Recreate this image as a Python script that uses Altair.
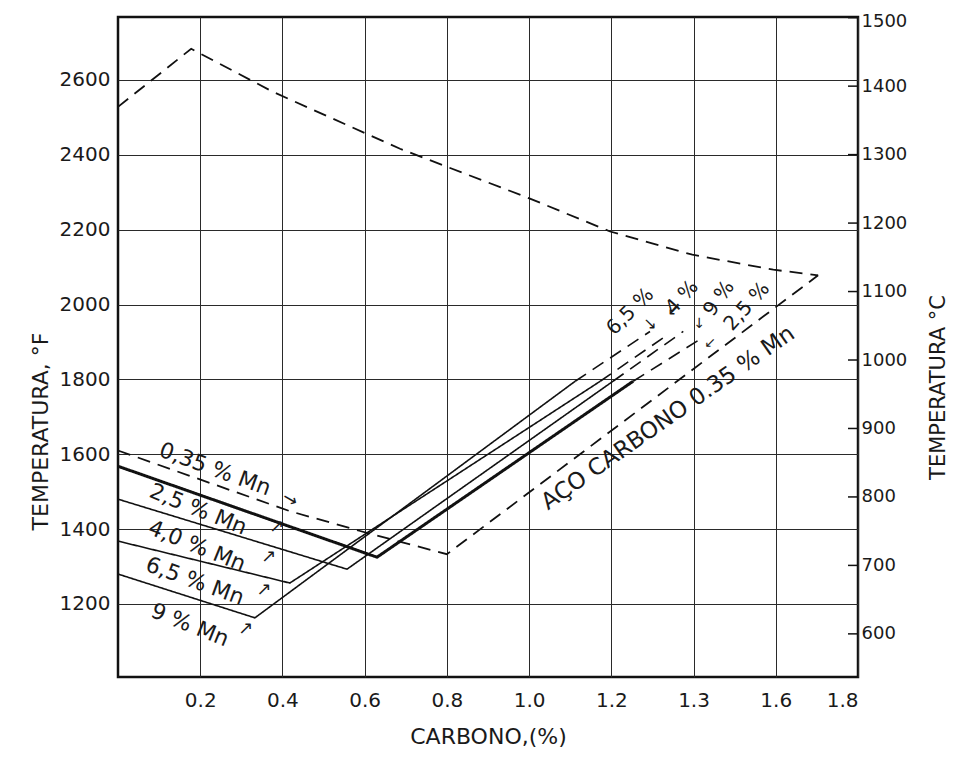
import altair as alt
import pandas as pd

FONT = "DejaVu Sans"
INK = "#1a1a1a"

# ---- axes ----
x_tick_values = [0.2, 0.4, 0.6, 0.8, 1.0, 1.2, 1.4, 1.6, 1.8]
x_tick_labels = ["0.2", "0.4", "0.6", "0.8", "1.0", "1.2", "1.3", "1.6", "1.8"]
f_ticks = [1200, 1400, 1600, 1800, 2000, 2200, 2400, 2600]
c_ticks = [600, 700, 800, 900, 1000, 1100, 1200, 1300, 1400, 1500]

# ---- curves (carbon %, temperature °F) ----
upper_c = [0.0, 0.178, 0.377, 0.686, 1.002, 1.197, 1.397, 1.594, 1.703]
upper_f = [2528, 2683, 2568, 2416, 2283, 2195, 2133, 2093, 2078]

steel_c = [0.0, 0.418, 0.589, 0.80, 1.703]
steel_f = [1610, 1448, 1395, 1333, 2078]

mn25_c = [0.0, 0.630, 1.253]
mn25_f = [1568, 1325, 1795]
mn25_dash_c = [1.253, 1.423]
mn25_dash_f = [1795, 1912]

mn40_c = [0.0, 0.557, 1.204]
mn40_f = [1480, 1293, 1795]
mn40_dash_c = [1.204, 1.375]
mn40_dash_f = [1795, 1928]

mn65_c = [0.0, 0.418, 1.173]
mn65_f = [1368, 1256, 1795]
mn65_dash_c = [1.173, 1.338]
mn65_dash_f = [1795, 1920]

mn9_c = [0.0, 0.333, 1.112]
mn9_f = [1280, 1163, 1795]
mn9_dash_c = [1.112, 1.294]
mn9_dash_f = [1795, 1928]

# ---- labels ----
label_text = ["0,35 % Mn", "2,5 % Mn", "4,0 % Mn", "6,5 % Mn", "9 % Mn",
              "6,5 %", "4 %", "9 %", "2,5 %", "AÇO CARBONO 0.35 % Mn"]
label_c = [0.236, 0.195, 0.192, 0.187, 0.175, 1.246, 1.372, 1.462, 1.530, 1.338]
label_f = [1560, 1453, 1355, 1261, 1144, 1981, 2019, 2016, 1995, 1697]
label_angle = [20, 22, 22, 20, 22, 315, 312, 305, 312, 325]
label_size = [22, 22, 22, 22, 22, 20, 20, 20, 20, 23]

arrow_text = ["→", "↗", "↗", "↗", "↗", "↘", "↙", "↓", "↙"]
arrow_c = [0.418, 0.386, 0.367, 0.355, 0.311, 1.294, 1.353, 1.414, 1.440]
arrow_f = [1478, 1405, 1325, 1238, 1134, 1947, 1985, 1949, 1896]
arrow_angle = [30, 0, 0, 0, 0, 0, 0, 0, 0]
arrow_size = [18, 18, 18, 18, 18, 16, 16, 14, 14]

# ---- build tables ----
rows = []


def add(name, cs, fs, style, w):
    for i, (c, f) in enumerate(zip(cs, fs)):
        rows.append(dict(series=name, i=i, c=c, F=f, style=style, w=w))


add("upper", upper_c, upper_f, "dashed", 1.8)
add("steel", steel_c, steel_f, "dashed", 1.8)
add("mn25", mn25_c, mn25_f, "solid", 3.0)
add("mn25d", mn25_dash_c, mn25_dash_f, "dashed", 1.6)
add("mn40", mn40_c, mn40_f, "solid", 1.6)
add("mn40d", mn40_dash_c, mn40_dash_f, "dashed", 1.6)
add("mn65", mn65_c, mn65_f, "solid", 1.6)
add("mn65d", mn65_dash_c, mn65_dash_f, "dashed", 1.6)
add("mn9", mn9_c, mn9_f, "solid", 1.6)
add("mn9d", mn9_dash_c, mn9_dash_f, "dashed", 1.6)
curves = pd.DataFrame(rows)

labels = pd.DataFrame(dict(t=label_text, c=label_c, F=label_f, a=label_angle, s=label_size))
arrows = pd.DataFrame(dict(t=arrow_text, c=arrow_c, F=arrow_f, a=arrow_angle, s=arrow_size))
cticks = pd.DataFrame(dict(C=c_ticks))

W, H = 740, 660

label_expr = "[" + ",".join("'%s'" % s for s in x_tick_labels) + "][round(datum.value*5)-1]"

x_enc = alt.X(
    "c:Q",
    scale=alt.Scale(domain=[0, 1.8], nice=False, zero=False),
    axis=alt.Axis(
        values=x_tick_values, labelExpr=label_expr, grid=True, gridColor="#2a2a2a",
        gridWidth=1, ticks=False, domain=False, labelFont=FONT, labelFontSize=20,
        labelColor=INK, labelPadding=13, title="CARBONO,(%)", titleFont=FONT,
        titleFontSize=22, titleFontWeight="normal", titleColor=INK, titleY=59,
        titleBaseline="middle",
    ),
)

y_enc = alt.Y(
    "F:Q",
    scale=alt.Scale(domain=[1005, 2768], nice=False, zero=False),
    axis=alt.Axis(
        values=f_ticks, format="d", grid=True, gridColor="#2a2a2a", gridWidth=1,
        ticks=False, domain=False, labelFont=FONT, labelFontSize=20,
        labelColor=INK, labelPadding=8, title="TEMPERATURA, °F", titleFont=FONT,
        titleFontSize=22, titleFontWeight="normal", titleColor=INK,
        titleAngle=270, titleX=-78, titleY=414, titleAlign="center",
        titleBaseline="middle",
    ),
)

lines = alt.Chart(curves).mark_line(color="#111111", strokeCap="butt").encode(
    x=x_enc,
    y=y_enc,
    detail="series:N",
    order="i:Q",
    strokeDash=alt.StrokeDash(
        "style:N",
        scale=alt.Scale(domain=["solid", "dashed"], range=[[1, 0], [13, 8]]),
        legend=None,
    ),
    strokeWidth=alt.StrokeWidth("w:Q", scale=None),
)

texts = alt.Chart(labels).mark_text(
    font=FONT, color=INK, align="center", baseline="middle"
).encode(
    x=x_enc, y=y_enc, text="t:N",
    angle=alt.Angle("a:Q", scale=None),
    size=alt.Size("s:Q", scale=None),
)

arrow_marks = alt.Chart(arrows).mark_text(
    font=FONT, color=INK, align="center", baseline="middle"
).encode(
    x=x_enc, y=y_enc, text="t:N",
    angle=alt.Angle("a:Q", scale=None),
    size=alt.Size("s:Q", scale=None),
)

left = alt.layer(lines, texts, arrow_marks)

right = alt.Chart(cticks).mark_rule(color="#111111", strokeWidth=1.5).encode(
    y=alt.Y(
        "C:Q",
        scale=alt.Scale(domain=[537, 1501], nice=False, zero=False),
        axis=alt.Axis(
            orient="right", values=c_ticks, format="d", grid=False, ticks=False,
            domain=False, labelFont=FONT, labelFontSize=18, labelColor=INK,
            labelPadding=3,
            labelOffset={"condition": {"test": "datum.value == 1500", "value": 4}, "value": 0},
            title="TEMPERATURA  °C", titleFont=FONT,
            titleFontSize=21, titleFontWeight="normal", titleColor=INK,
            titleAngle=270, titleX=80, titleY=370, titleAlign="center",
            titleBaseline="middle",
        ),
    ),
    x=alt.value(W - 10),
    x2=alt.value(W),
)

chart = (
    alt.layer(left, right)
    .resolve_scale(y="independent")
    .properties(
        width=W,
        height=H,
        autosize=alt.AutoSizeParams(type="none"),
        padding={"left": 110, "top": 9, "right": 93, "bottom": 79},
        background="white",
    )
    .configure_view(stroke="#111111", strokeWidth=2.5)
)

chart.save("out.html", embed_options={"renderer": "svg", "actions": False})
